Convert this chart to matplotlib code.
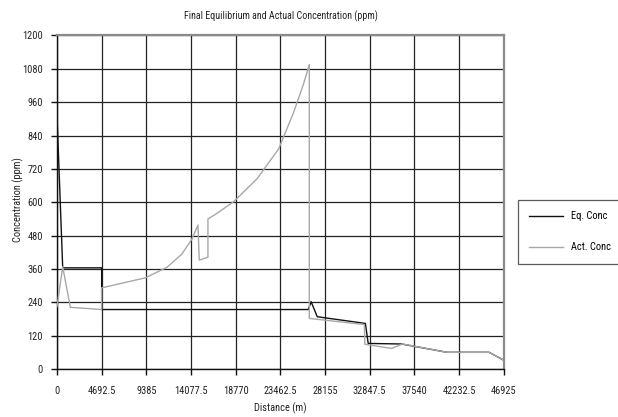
import matplotlib
matplotlib.use("Agg")
import matplotlib.pyplot as plt
from matplotlib import font_manager as fm

# ---- data ----
eq_x = [0, 600, 4692.5, 4692.5, 26400, 26700, 27350, 32400, 32700, 36200, 41000, 45400, 46925]
eq_y = [912, 364, 364, 214, 214, 242, 188, 164, 92, 90, 60, 60, 32]

act_x = [0, 600, 1400, 4692.5, 4692.5, 9280, 11560, 13130, 14180, 14810, 14950, 15860, 15860,
         16630, 18560, 21010, 23290, 24870, 25910, 26510, 26510, 32300, 32350, 35150, 36300,
         41000, 45400, 46925]
act_y = [225, 368, 222, 214, 292, 328, 366, 414, 468, 518, 392, 402, 540,
         556, 602, 684, 792, 924, 1026, 1096, 182, 160, 89, 74, 90,
         60, 60, 32]

x_ticks = [0, 4692.5, 9385, 14077.5, 18770, 23462.5, 28155, 32847.5, 37540, 42232.5, 46925]
x_tick_labels = ["0", "4692.5", "9385", "14077.5", "18770", "23462.5", "28155",
                 "32847.5", "37540", "42232.5", "46925"]
y_ticks = [0, 120, 240, 360, 480, 600, 720, 840, 960, 1080, 1200]

title = "Final Equilibrium and Actual Concentration (ppm)"
series_names = ["Eq. Conc", "Act. Conc"]

# ---- font ----
fam = "DejaVu Sans"
for cand in ["Liberation Sans Narrow", "Roboto Condensed", "Arial Narrow", "Liberation Sans"]:
    try:
        fm.findfont(cand, fallback_to_default=False)
        fam = cand
        break
    except Exception:
        pass
plt.rcParams["font.family"] = [fam, "DejaVu Sans"]

W, H = 618, 417
fig = plt.figure(figsize=(W / 100, H / 100), dpi=100)
ax = fig.add_axes([57 / W, 48 / H, 446.6 / W, 333.5 / H])

ax.plot(eq_x, eq_y, color="#111111", lw=1.0, label=series_names[0], zorder=3)
ax.plot(act_x, act_y, color="#a8a8a8", lw=1.0, label=series_names[1], zorder=3)

ax.set_xlim(0, 46925)
ax.set_ylim(0, 1200)
ax.set_xticks(x_ticks)
ax.set_xticklabels(x_tick_labels)
ax.set_yticks(y_ticks)
ax.grid(True, color="#222222", lw=0.9)
ax.set_axisbelow(True)

for s in ["left", "bottom"]:
    ax.spines[s].set_color("#111111")
    ax.spines[s].set_linewidth(1.0)
for s in ["top", "right"]:
    ax.spines[s].set_color("#8a8a8a")
    ax.spines[s].set_linewidth(1.6)

ax.tick_params(axis="both", direction="out", length=4, width=1, color="#111111",
               labelsize=7.5, labelcolor="#222222", pad=6)
ax.tick_params(axis="x", pad=8)

fig.text(281 / W, 1 - 16 / H, title, fontsize=7.2, color="#222222",
         ha="center", va="center")
fig.text(280 / W, 1 - 408 / H, "Distance (m)", fontsize=7.5, color="#222222",
         ha="center", va="center")
fig.text(18 / W, 1 - 200 / H, "Concentration (ppm)", fontsize=7.5, color="#222222",
         ha="center", va="center", rotation=90)

leg = fig.legend(loc="upper left", bbox_to_anchor=(518 / W, 1 - 200 / H),
                 frameon=True, fancybox=False, fontsize=7.5, handlelength=3.2,
                 borderpad=1.1, labelspacing=2.0, handletextpad=0.8,
                 borderaxespad=0)
leg.get_frame().set_edgecolor("#333333")
leg.get_frame().set_linewidth(0.9)

fig.savefig("out.png", dpi=100)
